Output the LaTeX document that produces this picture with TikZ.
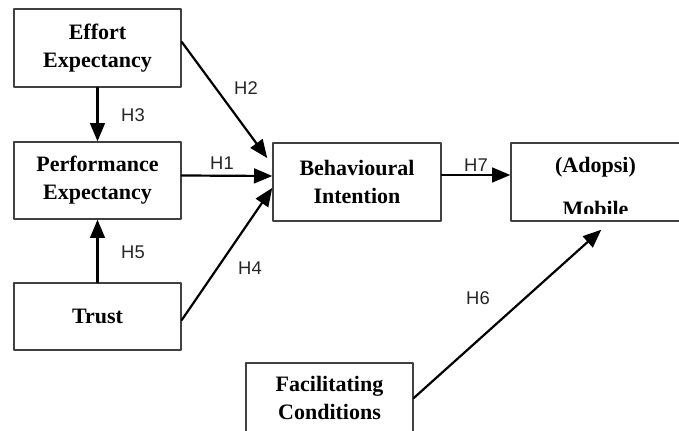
\documentclass[tikz,border=0pt]{standalone}
\usepackage{fontspec}
\setmainfont{Liberation Serif}
\newfontfamily\hypfont{Liberation Sans}
\usetikzlibrary{arrows}

\tikzset{
  construct/.style={draw=black!75,line width=0.8pt,fill=white,inner sep=0pt,
    minimum width=83.5pt,align=center,font=\bfseries\fontsize{11}{14}\selectfont},
  boxtext/.style={inner sep=0pt,font=\bfseries\fontsize{11}{14}\selectfont},
  hyp/.style={inner sep=0pt,text=black!85,font=\hypfont\fontsize{9.2}{10}\selectfont},
  hyparrow/.style={->,line width=1.1pt,black},
}

\begin{document}
\begin{tikzpicture}[line cap=round,line join=round,>=triangle 45,x=0.5pt,y=-0.5pt]
        \useasboundingbox (0,0) rectangle (679,431);
        % constructs
        \node[construct,minimum height=39pt] (effort) at (97.5,48) {Effort\\Expectancy};
        \node[construct,minimum height=38.5pt] (perf) at (97.5,180.5) {Performance\\Expectancy};
        \node[construct,minimum height=33.5pt] (trust) at (97.5,316.5) {Trust};
        \node[construct,minimum width=84pt,minimum height=39pt] (behav) at (357,182) {Behavioural\\Intention};
        \node[construct,minimum width=94.5pt,minimum height=39pt] (adopsi) at (605.5,182) {};
        \node[construct,minimum height=35pt] (facil) at (329.5,398) {Facilitating\\Conditions};
        \begin{scope}
            \clip ([yshift=4pt]adopsi.south west) rectangle (adopsi.north east);
            \node[boxtext] (adopsitop) at ([xshift=-5pt,yshift=-12.5pt]adopsi.north) {(Adopsi)};
            \node[boxtext,anchor=base] (adopsibot) at ([xshift=-5pt,yshift=-37pt]adopsi.north) {Mobile};
        \end{scope}
        % hypotheses
        \draw[hyparrow] (effort) -- (perf);
        \draw[hyparrow] (trust) -- (perf);
        \draw[hyparrow] ([yshift=3pt]effort.east) -- ([xshift=-2.5pt,yshift=12pt]behav.west);
        \draw[hyparrow] ([yshift=2.5pt]perf.east) -- ([yshift=3pt]behav.west);
        \draw[hyparrow] ([yshift=-1.75pt]trust.east) -- ([yshift=-3pt]behav.west);
        \draw[hyparrow] ([yshift=3.5pt]behav.east) -- ([yshift=3.5pt]adopsi.west);
        \draw[hyparrow] (facil.east) -- ([xshift=45.5pt,yshift=-4pt]adopsi.south west);
        \begin{scriptsize}
            \node[hyp] (h1) at (222,163) {H1};
            \node[hyp] (h2) at (246,88) {H2};
            \node[hyp] (h3) at (133,115) {H3};
            \node[hyp] (h4) at (250,268) {H4};
            \node[hyp] (h5) at (133,252) {H5};
            \node[hyp] (h6) at (478,298) {H6};
            \node[hyp] (h7) at (476,165) {H7};
        \end{scriptsize}
    \end{tikzpicture}
\end{document}
